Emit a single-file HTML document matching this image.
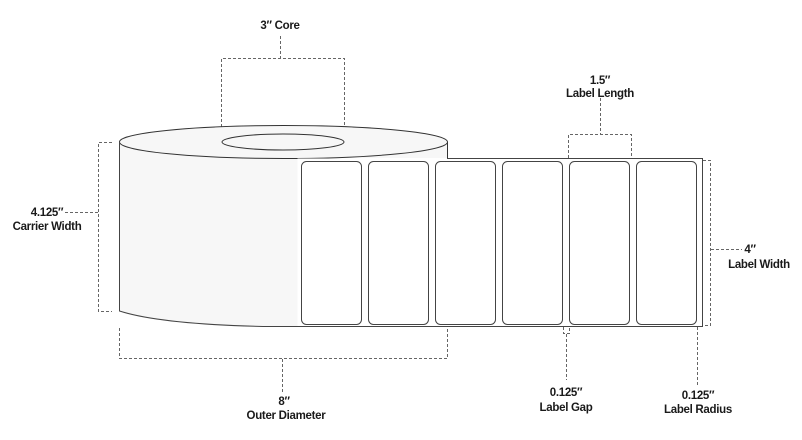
<!DOCTYPE html>
<html><head><meta charset="utf-8"><style>
html,body{margin:0;padding:0;background:#fff;}
svg{display:block;}
text{font-family:"Liberation Sans",sans-serif;font-weight:bold;font-size:11.5px;fill:#1a1a1a;text-anchor:middle;letter-spacing:-0.3px;}
</style></head><body>
<svg width="802" height="440" viewBox="0 0 802 440">
<g fill="none" stroke="#666" stroke-width="1" stroke-dasharray="3,2">
  <path d="M280.5 36 V58.5 M221.5 142 V58.5 H344.5 V142"/>
  <path d="M112 142.5 H98.5 V311.5 H112 M65 212.5 H98"/>
  <path d="M119.5 328 V358.5 H447.5 V328 M282.5 359 V392"/>
  <path d="M568.5 158 V134.5 H631.5 V158 M600.5 98 V134"/>
  <path d="M703 160.5 H710.5 V325.5 H703 M711 249.5 H742"/>
  <path d="M563.5 327 V333.5 H569.5 V327 M566.5 334 V380"/>
  <path d="M697.5 327 V385"/>
</g>
<!-- roll body -->
<path d="M119.5 142 V311 Q160 324 263 326.5 H300 V158 H447.5 V142 Z" fill="#f7f7f7" stroke="none"/>
<ellipse cx="283.5" cy="142" rx="164" ry="16.5" fill="#f7f7f7" stroke="#333" stroke-width="1"/>
<ellipse cx="283" cy="142" rx="61" ry="8" fill="#f7f7f7" stroke="#333" stroke-width="1"/>
<line x1="447.5" y1="142" x2="447.5" y2="158" stroke="#333"/>
<!-- strip -->
<rect x="297.5" y="158.5" width="405" height="168" fill="#fff" stroke="none"/>
<path d="M119.5 142 V311 Q160 324 263 326.5 H702.5 V158.5 H447" fill="none" stroke="#444" stroke-width="1"/>
<g fill="#fff" stroke="#444" stroke-width="1">
  <rect x="301.5" y="161.5" width="60" height="163" rx="5"/>
  <rect x="368.5" y="161.5" width="60" height="163" rx="5"/>
  <rect x="435.5" y="161.5" width="60" height="163" rx="5"/>
  <rect x="502.5" y="161.5" width="60" height="163" rx="5"/>
  <rect x="569.5" y="161.5" width="60" height="163" rx="5"/>
  <rect x="636.5" y="161.5" width="60" height="163" rx="5"/>
</g>
<text x="280" y="29">3″ Core</text>
<text x="600" y="84">1.5″</text>
<text x="600" y="97">Label Length</text>
<text x="47" y="216">4.125″</text>
<text x="47" y="230">Carrier Width</text>
<text x="750" y="253">4″</text>
<text x="759" y="268">Label Width</text>
<text x="284" y="405">8″</text>
<text x="286" y="419">Outer Diameter</text>
<text x="566" y="396">0.125″</text>
<text x="566" y="411">Label Gap</text>
<text x="698" y="399">0.125″</text>
<text x="698" y="413">Label Radius</text>
</svg>
</body></html>
